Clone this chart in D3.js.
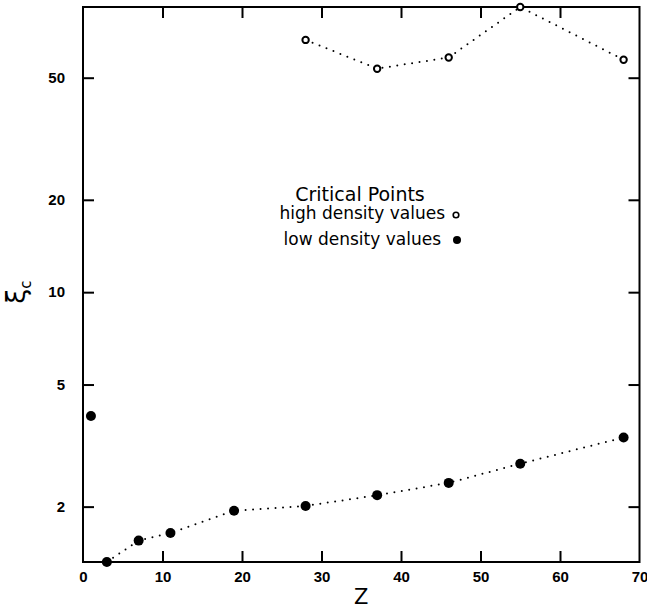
<!DOCTYPE html>
<html>
<head>
<meta charset="utf-8">
<script src="https://cdn.jsdelivr.net/npm/d3@7"></script>
<style>
  body { margin: 0; background: #fff; }
</style>
</head>
<body>
<div class="canvas"></div>
<script>
// critical points, Z vs xi_c
const lowZ = [1, 3, 7, 11, 19, 28, 37, 46, 55, 68];
const lowXi = [3.95, 1.32, 1.55, 1.64, 1.94, 2.01, 2.18, 2.39, 2.76, 3.36];
const highZ = [28, 37, 46, 55, 68];
const highXi = [66.4, 53.5, 58.2, 85, 57.2];
const xTicks = [0, 10, 20, 30, 40, 50, 60, 70];
const yTicks = [2, 5, 10, 20, 50];

const dims = { width: 647, height: 608 };
const plot = { left: 83, right: 639.5, top: 7, bottom: 562 };
const font = "'DejaVu Sans', 'Liberation Sans', sans-serif";

const svg = d3
  .select(".canvas")
  .append("svg")
  .attr("width", dims.width)
  .attr("height", dims.height)
  .attr("font-family", font);

const x = d3.scaleLinear().domain([0, 70]).range([plot.left, plot.right]);
const y = d3.scaleLog().domain([1.32, 85]).range([plot.bottom, plot.top]);

const tickLen = 11;

// frame
svg
  .append("rect")
  .attr("x", plot.left)
  .attr("y", plot.top)
  .attr("width", plot.right - plot.left)
  .attr("height", plot.bottom - plot.top)
  .attr("fill", "none")
  .attr("stroke", "#000")
  .attr("stroke-width", 2);

// axes with inward ticks
const bottomAxis = svg
  .append("g")
  .attr("transform", `translate(0, ${plot.bottom})`)
  .call(d3.axisBottom(x).tickValues(xTicks).tickSize(-tickLen).tickPadding(9));

const topAxis = svg
  .append("g")
  .attr("transform", `translate(0, ${plot.top})`)
  .call(d3.axisTop(x).tickValues(xTicks.slice(1, -1)).tickSize(-tickLen).tickFormat(""));

const leftAxis = svg
  .append("g")
  .attr("transform", `translate(${plot.left}, 0)`)
  .call(d3.axisLeft(y).tickValues(yTicks).tickSize(-tickLen).tickPadding(18).tickFormat(d3.format("d")));

const rightAxis = svg
  .append("g")
  .attr("transform", `translate(${plot.right}, 0)`)
  .call(d3.axisRight(y).tickValues(yTicks).tickSize(-tickLen).tickFormat(""));

[bottomAxis, topAxis, leftAxis, rightAxis].forEach((g) => {
  g.attr("font-family", "'Liberation Sans', Arial, sans-serif").attr("font-size", 15);
  g.select(".domain").remove();
  g.selectAll(".tick line").attr("stroke", "#000").attr("stroke-width", 2);
  g.selectAll("text").attr("font-weight", "bold").attr("fill", "#000");
});
// skip ticks on frame edges
bottomAxis.selectAll(".tick line").filter((d) => d === 0 || d === 70).remove();

// axis titles
svg
  .append("text")
  .attr("x", x(35))
  .attr("y", 604)
  .attr("text-anchor", "middle")
  .attr("font-size", 21)
  .text("Z");

const yLabel = svg
  .append("text")
  .attr("transform", `translate(25, ${y(10)}) rotate(-90)`)
  .attr("text-anchor", "middle")
  .attr("font-size", 27);
yLabel.append("tspan").text("ξ");
yLabel.append("tspan").attr("font-size", 15).attr("dy", 6).text("c");

// dotted connecting lines
const line = d3
  .line()
  .x((d) => x(d[0]))
  .y((d) => y(d[1]));

const lowPts = d3.zip(lowZ, lowXi);
const highPts = d3.zip(highZ, highXi);

[lowPts.slice(1), highPts].forEach((pts) => {
  svg
    .append("path")
    .attr("d", line(pts))
    .attr("fill", "none")
    .attr("stroke", "#000")
    .attr("stroke-width", 2)
    .attr("stroke-linecap", "round")
    .attr("stroke-dasharray", "0,7.5");
});

// markers
svg
  .selectAll(".low")
  .data(lowPts)
  .enter()
  .append("circle")
  .attr("class", "low")
  .attr("cx", (d) => x(d[0]))
  .attr("cy", (d) => y(d[1]))
  .attr("r", 5)
  .attr("fill", "#000");

svg
  .selectAll(".high")
  .data(highPts)
  .enter()
  .append("circle")
  .attr("class", "high")
  .attr("cx", (d) => x(d[0]))
  .attr("cy", (d) => y(d[1]))
  .attr("r", 3.2)
  .attr("fill", "#fff")
  .attr("stroke", "#000")
  .attr("stroke-width", 2);

// legend
const legend = svg.append("g");
legend
  .append("text")
  .attr("x", 360)
  .attr("y", 201)
  .attr("text-anchor", "middle")
  .attr("font-size", 19)
  .text("Critical Points");
legend
  .append("text")
  .attr("x", 445)
  .attr("y", 219)
  .attr("text-anchor", "end")
  .attr("font-size", 17)
  .text("high density values");
legend
  .append("text")
  .attr("x", 441)
  .attr("y", 245)
  .attr("text-anchor", "end")
  .attr("font-size", 17)
  .text("low density values");
legend
  .append("circle")
  .attr("cx", 456)
  .attr("cy", 215)
  .attr("r", 2.8)
  .attr("fill", "#fff")
  .attr("stroke", "#000")
  .attr("stroke-width", 1.6);
legend
  .append("circle")
  .attr("cx", 457)
  .attr("cy", 240)
  .attr("r", 4)
  .attr("fill", "#000");
</script>
</body>
</html>
